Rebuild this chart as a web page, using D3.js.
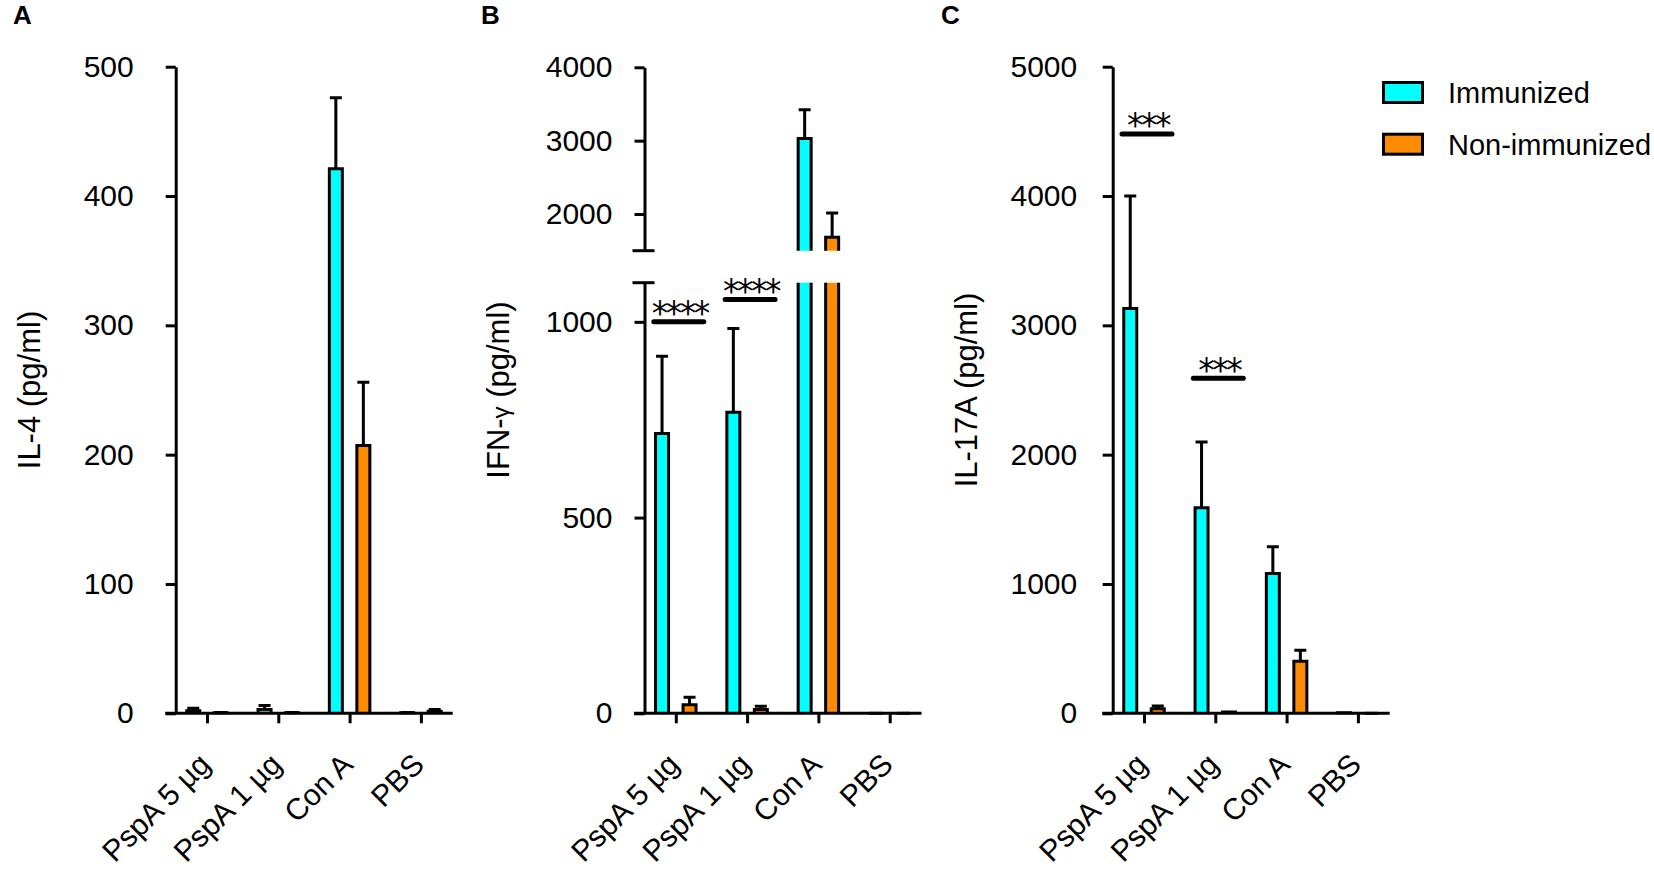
<!DOCTYPE html>
<html>
<head>
<meta charset="utf-8">
<script src="https://cdn.jsdelivr.net/npm/d3@7"></script>
<style>
  body { margin: 0; background: #fff; }
  svg { display: block; font-family: "Liberation Sans", Arial, sans-serif; }
</style>
</head>
<body>
<svg id="chart" width="1654" height="874"></svg>
<script>
const categories = ['PspA 5 µg', 'PspA 1 µg', 'Con A', 'PBS'];
const seriesNames = ['Immunized', 'Non-immunized'];

// IL-4 (pg/ml)
const il4Immunized = [2, 3, 421, 0.4];
const il4ImmunizedErr = [2, 3, 55, 0.3];
const il4Non = [0.4, 0.4, 207, 1.5];
const il4NonErr = [0.3, 0.3, 49, 1.5];

// IFN-gamma (pg/ml)
const ifnImmunized = [715, 769, 3030, 0];
const ifnImmunizedErr = [197, 214, 390, 0];
const ifnNon = [22, 10, 1682, 0];
const ifnNonErr = [19, 8, 333, 0];

// IL-17A (pg/ml)
const il17Immunized = [3130, 1589, 1082, 5];
const il17ImmunizedErr = [870, 508, 205, 0];
const il17Non = [35, 10, 402, 0];
const il17NonErr = [22, 0, 85, 0];

const il4Ticks = [0, 100, 200, 300, 400, 500];
const ifnTicksLow = [0, 500, 1000];
const ifnTicksHigh = [2000, 3000, 4000];
const il17Ticks = [0, 1000, 2000, 3000, 4000, 5000];

// significance marks: category, value where the line sits, label
const ifnSig = [['PspA 5 µg', 1000, '****'], ['PspA 1 µg', 1057, '****']];
const il17Sig = [['PspA 5 µg', 4480, '***'], ['PspA 1 µg', 2590, '***']];

const svg = d3.select('#chart');
const baseY = 713.3, topY = 66.7;
const colors = ['#00ffff', '#ff8c00'];
const barW = 13, barOff = 13.75;

function xScaleFor(axisX) {
  return d3.scalePoint().domain(categories).range([axisX + 31.3, axisX + 31.3 + 3 * 71.3]);
}

function drawXAxis(x, axisX) {
  svg.append('g')
    .attr('transform', `translate(0,${baseY})`)
    .call(d3.axisBottom(x).tickSize(10).tickFormat(''))
    .call((a) => a.select('.domain').remove())
    .selectAll('line').attr('stroke', '#000').attr('stroke-width', 3);

  svg.append('line')
    .attr('x1', axisX - 10.5).attr('x2', axisX + 277)
    .attr('y1', baseY).attr('y2', baseY)
    .attr('stroke', '#000').attr('stroke-width', 3);

  svg.append('g').selectAll('text')
    .data(categories)
    .enter()
    .append('text')
    .attr('transform', (d) => `translate(${x(d) + 5},${baseY + 53}) rotate(-45)`)
    .attr('text-anchor', 'end')
    .style('font-size', '30px')
    .text((d) => d);
}

function drawYAxis(y, axisX, ticks, pad) {
  const g = svg.append('g')
    .attr('transform', `translate(${axisX},0)`)
    .call(d3.axisLeft(y).tickValues(ticks).tickFormat(d3.format('d'))
      .tickSize(10).tickSizeOuter(0).tickPadding(pad));
  g.selectAll('line, path').attr('stroke', '#000').attr('stroke-width', 3);
  g.selectAll('text').style('font-size', '30px').attr('fill', '#000').attr('font-family', null);
  return g;
}

function yTitle(axisX, text, sub) {
  const t = svg.append('text')
    .attr('transform', `translate(${axisX - 136},${(baseY + topY) / 2}) rotate(-90)`)
    .attr('text-anchor', 'middle')
    .style('font-size', '31px')
    .text(text);
  if (sub) {
    t.append('tspan').style('font-size', '24px').text(sub);
    t.append('tspan').text(' (pg/ml)');
  }
}

// one bar piece; closedTop false leaves the top open (axis break)
function barPiece(cx, yBot, yTop, color, closedTop) {
  svg.append('rect')
    .attr('x', cx - barW / 2).attr('width', barW)
    .attr('y', yTop).attr('height', Math.max(0, yBot - yTop))
    .attr('fill', color);
  const l = cx - barW / 2, r = cx + barW / 2;
  const d = closedTop
    ? `M${l},${yBot}V${yTop}H${r}V${yBot}`
    : `M${l},${yBot}V${yTop}M${r},${yBot}V${yTop}`;
  svg.append('path').attr('d', d)
    .attr('fill', 'none').attr('stroke', '#000').attr('stroke-width', 3);
}

function errorBar(cx, y0, y1) {
  svg.append('path')
    .attr('d', `M${cx},${y0}V${y1}M${cx - 6},${y1}H${cx + 6}`)
    .attr('fill', 'none').attr('stroke', '#000').attr('stroke-width', 3);
}

function drawBars(x, y, values, errs, s) {
  values.forEach((v, i) => {
    const cx = x(categories[i]) + (s === 0 ? -barOff : barOff);
    barPiece(cx, baseY, y(v), colors[s], true);
    if (errs[i] > 0) errorBar(cx, y(v), y(v + errs[i]));
  });
}

function drawSig(x, y, marks) {
  marks.forEach(([c, v, label]) => {
    const x1 = x(c) - 22, x2 = x(c) + 28;
    svg.append('line')
      .attr('x1', x1).attr('x2', x2).attr('y1', y(v)).attr('y2', y(v))
      .attr('stroke', '#000').attr('stroke-width', 5).attr('stroke-linecap', 'round');
    svg.append('text')
      .attr('x', (x1 + x2) / 2 + 1).attr('y', y(v) + 3.5)
      .attr('text-anchor', 'middle')
      .style('font-family', '"DejaVu Sans", sans-serif')
      .style('font-size', '33px')
      .style('letter-spacing', '-2.5px')
      .text(label);
  });
}

function panelLetter(px, letter) {
  svg.append('text').attr('x', px).attr('y', 24)
    .style('font-size', '26px').style('font-weight', 'bold').text(letter);
}

// Panel A: IL-4
{
  const axisX = 175.7;
  const x = xScaleFor(axisX);
  const y = d3.scaleLinear().domain([0, 500]).range([baseY, topY]);
  drawBars(x, y, il4Immunized, il4ImmunizedErr, 0);
  drawBars(x, y, il4Non, il4NonErr, 1);
  drawXAxis(x, axisX);
  drawYAxis(y, axisX, il4Ticks, 32);
  yTitle(axisX, 'IL-4 (pg/ml)');
  panelLetter(13, 'A');
}

// Panel B: IFN-gamma with broken axis
{
  const axisX = 644.5;
  const x = xScaleFor(axisX);
  const yLow = d3.scaleLinear().domain([0, 1100]).range([baseY, 282.7]);
  const yHigh = d3.scaleLinear().domain([1500, 4000]).range([250.7, 67.3]);
  const yAny = (v) => (v <= 1100 ? yLow(v) : yHigh(v));

  [[ifnImmunized, ifnImmunizedErr], [ifnNon, ifnNonErr]].forEach(([vals, errs], s) => {
    vals.forEach((v, i) => {
      const cx = x(categories[i]) + (s === 0 ? -barOff : barOff);
      if (v > 1100) {
        barPiece(cx, baseY, yLow(1100), colors[s], false);
        barPiece(cx, yHigh(1500), yHigh(v), colors[s], true);
      } else {
        barPiece(cx, baseY, yLow(v), colors[s], true);
      }
      if (errs[i] > 0) errorBar(cx, yAny(v), yAny(v + errs[i]));
    });
  });

  drawXAxis(x, axisX);
  drawYAxis(yLow, axisX, ifnTicksLow, 22);
  drawYAxis(yHigh, axisX, ifnTicksHigh, 22);
  [yLow(1100), yHigh(1500)].forEach((yy) => {
    svg.append('line')
      .attr('x1', axisX - 12).attr('x2', axisX + 10).attr('y1', yy).attr('y2', yy)
      .attr('stroke', '#000').attr('stroke-width', 3);
  });
  drawSig(x, yLow, ifnSig);
  yTitle(axisX, 'IFN-', 'γ');
  panelLetter(481, 'B');
}

// Panel C: IL-17A
{
  const axisX = 1112.7;
  const x = xScaleFor(axisX);
  const y = d3.scaleLinear().domain([0, 5000]).range([baseY, topY]);
  drawBars(x, y, il17Immunized, il17ImmunizedErr, 0);
  drawBars(x, y, il17Non, il17NonErr, 1);
  drawXAxis(x, axisX);
  drawYAxis(y, axisX, il17Ticks, 25.5);
  drawSig(x, y, il17Sig);
  yTitle(axisX, 'IL-17A (pg/ml)');
  panelLetter(941, 'C');
}

// Legend
const legend = svg.append('g').attr('transform', 'translate(1383.5,82.5)');
seriesNames.forEach((name, i) => {
  legend.append('rect')
    .attr('x', 0).attr('y', i * 51.7).attr('width', 39).attr('height', 20)
    .attr('fill', colors[i]).attr('stroke', '#000').attr('stroke-width', 3);
  legend.append('text')
    .attr('x', 64.5).attr('y', i * 52.3 + 20.2)
    .style('font-size', '29px')
    .text(name);
});
</script>
</body>
</html>
